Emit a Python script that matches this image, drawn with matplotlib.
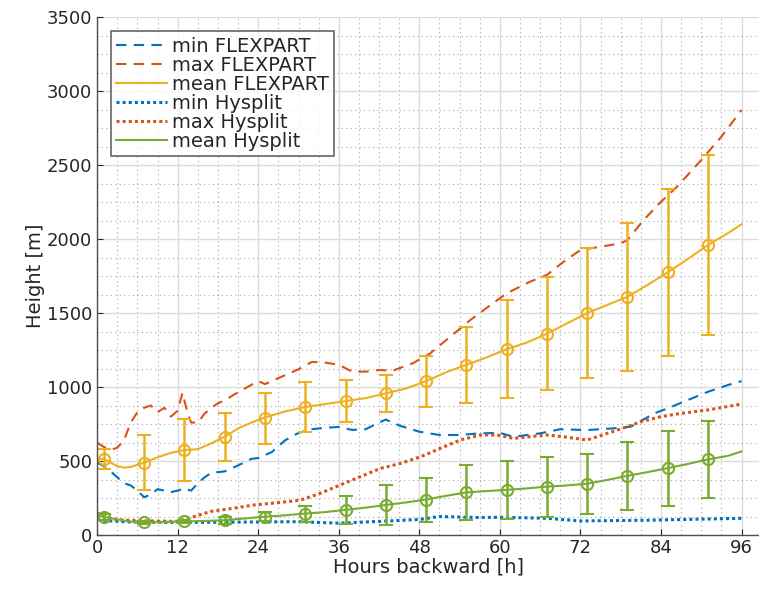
import matplotlib
matplotlib.use("Agg")
import matplotlib.pyplot as plt
from matplotlib.ticker import MultipleLocator

plt.rcParams['font.family'] = ['DejaVu Sans']

# ---- data ----
min_flex_h = [0, 1, 2, 3, 4, 5, 6, 7, 8, 9, 10, 11, 12, 13, 14, 15, 16, 17, 19, 21, 23, 24, 26, 28, 30, 32, 34, 36, 38, 40, 42, 43, 45, 48, 51, 54, 57, 60, 62, 66, 69, 73, 77, 79.5, 83, 85, 88, 91, 94, 96]
min_flex_v = [490, 465, 430, 390, 350, 335, 300, 255, 275, 310, 300, 290, 300, 315, 300, 350, 390, 420, 430, 470, 515, 520, 560, 640, 690, 715, 725, 730, 710, 715, 760, 780, 740, 698, 676, 676, 687, 690, 664, 687, 715, 709, 721, 732, 822, 856, 912, 968, 1014, 1040]

max_flex_h = [0, 1, 2, 3, 4, 5, 6, 7, 8, 9, 10, 11, 12, 12.7, 13.5, 14, 15, 16, 17, 18, 19, 21, 24, 25, 28, 30, 32, 34, 36, 38, 40, 42, 44, 47, 49.6, 52.6, 55.6, 58.6, 61, 64.5, 67, 69.5, 72, 75, 78, 79, 81.4, 84, 86.4, 90, 93, 96]
max_flex_v = [625, 595, 575, 590, 640, 760, 830, 860, 875, 830, 860, 800, 840, 960, 820, 760, 760, 820, 860, 890, 910, 965, 1040, 1020, 1080, 1120, 1170, 1165, 1150, 1104, 1104, 1115, 1110, 1160, 1227, 1340, 1453, 1554, 1633, 1712, 1757, 1847, 1926, 1948, 1971, 1993, 2128, 2252, 2354, 2534, 2692, 2872]

mean_flex_h = [0, 1, 2, 3, 4, 5, 7, 9, 10, 11, 13, 15, 17, 19, 21, 23, 25, 28, 31, 34, 37, 40, 43, 46, 49, 52, 55, 58, 61, 64, 67, 70, 73, 76, 79, 82, 85, 88, 91, 94, 96]
mean_flex_v = [515, 513, 490, 465, 455, 460, 489, 525, 540, 555, 574, 580, 620, 664, 720, 760, 795, 835, 865, 885, 905, 925, 957, 990, 1040, 1100, 1150, 1200, 1255, 1300, 1360, 1430, 1500, 1555, 1610, 1690, 1775, 1865, 1960, 2040, 2100]

min_hys_h = [0, 2, 5, 12, 24, 30, 36, 42, 48, 51, 57, 60, 67, 72, 82, 96]
min_hys_v = [105, 95, 88, 85, 88, 90, 80, 92, 105, 125, 118, 120, 113, 95, 100, 113]

max_hys_h = [0, 1, 2, 4, 8, 12, 14.4, 17, 20.4, 23.4, 28.3, 30.3, 33.2, 36.2, 39.2, 42.2, 45.2, 48.2, 51.1, 54.1, 57.1, 59.6, 62, 67, 69.5, 73, 76, 79, 81, 84, 87, 91, 96]
max_hys_v = [150, 124, 110, 100, 95, 92, 124, 160, 182, 203, 225, 236, 281, 338, 394, 450, 484, 529, 585, 642, 676, 676, 653, 676, 664, 642, 687, 732, 766, 800, 822, 845, 885]

mean_hys_h = [0, 1, 3, 5, 7, 10, 13, 16, 19, 22, 25, 28, 31, 34, 37, 40, 43, 46, 49, 52, 55, 58, 61, 64, 67, 70, 73, 76, 79, 82, 85, 88, 91, 94, 96]
mean_hys_v = [130, 124, 105, 90, 85, 88, 92, 95, 100, 112, 124, 133, 145, 155, 170, 185, 203, 220, 240, 265, 288, 297, 305, 315, 327, 335, 347, 372, 400, 425, 452, 480, 511, 535, 565]

err_h = [1, 7, 13, 19, 25, 31, 37, 43, 49, 55, 61, 67, 73, 79, 85, 91]
flex_err_mean = [513, 489, 574, 664, 790, 865, 905, 957, 1040, 1150, 1255, 1360, 1500, 1610, 1775, 1960]
flex_err_std = [67, 185, 209, 162, 172, 172, 142, 126, 173, 255, 332, 383, 441, 499, 562, 611]
hys_err_mean = [124, 85, 92, 100, 124, 142, 169, 203, 236, 288, 304, 327, 345, 399, 450, 511]
hys_err_std = [20, 10, 12, 25, 32, 52, 95, 138, 148, 186, 195, 203, 200, 228, 251, 259]

x_ticks = [0, 12, 24, 36, 48, 60, 72, 84, 96]
y_ticks = [0, 500, 1000, 1500, 2000, 2500, 3000, 3500]

# ---- style ----
C_BLUE = '#0072BD'
C_RED = '#D95319'
C_YEL = '#EDB120'
C_GRN = '#77AC30'
TXT = '#262626'

fig = plt.figure(figsize=(7.59, 5.94), dpi=100)
ax = fig.add_axes([0.128, 0.0993, 0.872, 0.872])

lw = 1.5
h1, = ax.plot(min_flex_h, min_flex_v, color=C_BLUE, lw=lw, dashes=(5, 3.5), label='min FLEXPART')
h2, = ax.plot(max_flex_h, max_flex_v, color=C_RED, lw=lw, dashes=(5, 3.5), label='max FLEXPART')
h3, = ax.plot(mean_flex_h, mean_flex_v, color=C_YEL, lw=lw, label='mean FLEXPART')
h4, = ax.plot(min_hys_h, min_hys_v, color=C_BLUE, lw=2.2, dashes=(1, 1), label='min Hysplit')
h5, = ax.plot(max_hys_h, max_hys_v, color=C_RED, lw=2.2, dashes=(1, 1), label='max Hysplit')
h6, = ax.plot(mean_hys_h, mean_hys_v, color=C_GRN, lw=lw, label='mean Hysplit')

ax.errorbar(err_h, flex_err_mean, yerr=flex_err_std, fmt='o', color=C_YEL, mfc='none',
            mec=C_YEL, ms=8, mew=1.5, elinewidth=1.8, capsize=5, capthick=1.8)
ax.errorbar(err_h, hys_err_mean, yerr=hys_err_std, fmt='o', color=C_GRN, mfc='none',
            mec=C_GRN, ms=8, mew=1.5, elinewidth=1.8, capsize=5, capthick=1.8)

ax.set_xlim(0, 98.6)
ax.set_ylim(0, 3500)
ax.set_xticks(x_ticks)
ax.set_yticks(y_ticks)
ax.xaxis.set_minor_locator(MultipleLocator(3))
ax.yaxis.set_minor_locator(MultipleLocator(125))
ax.grid(True, which='major', color='#dcdcdc', lw=1.0, ls='-')
ax.grid(True, which='minor', color='#a8a8a8', lw=0.8, ls=(0, (1, 3)))
ax.set_axisbelow(True)

for s in ['top', 'right']:
    ax.spines[s].set_visible(False)
for s in ['left', 'bottom']:
    ax.spines[s].set_color('#505050')
    ax.spines[s].set_linewidth(1.0)

ax.tick_params(which='both', direction='in', colors=TXT, labelsize=13, length=4)
ax.tick_params(which='minor', length=0)
ax.tick_params(axis='x', pad=3)

ax.set_xlabel('Hours backward [h]', fontsize=14, color=TXT, labelpad=0)
ax.set_ylabel('Height [m]', fontsize=14, color=TXT, labelpad=1)

leg = ax.legend(handles=[h1, h2, h3, h4, h5, h6], loc='upper left', bbox_to_anchor=(0.015, 0.98),
                fontsize=14, frameon=True, fancybox=False, handlelength=2.6, handletextpad=0.25,
                borderpad=0.28, labelspacing=0.0, borderaxespad=0.2)
leg.get_frame().set_edgecolor('#404040')
leg.get_frame().set_linewidth(1.2)
for t in leg.get_texts():
    t.set_color(TXT)

fig.savefig('out.png', dpi=100)
